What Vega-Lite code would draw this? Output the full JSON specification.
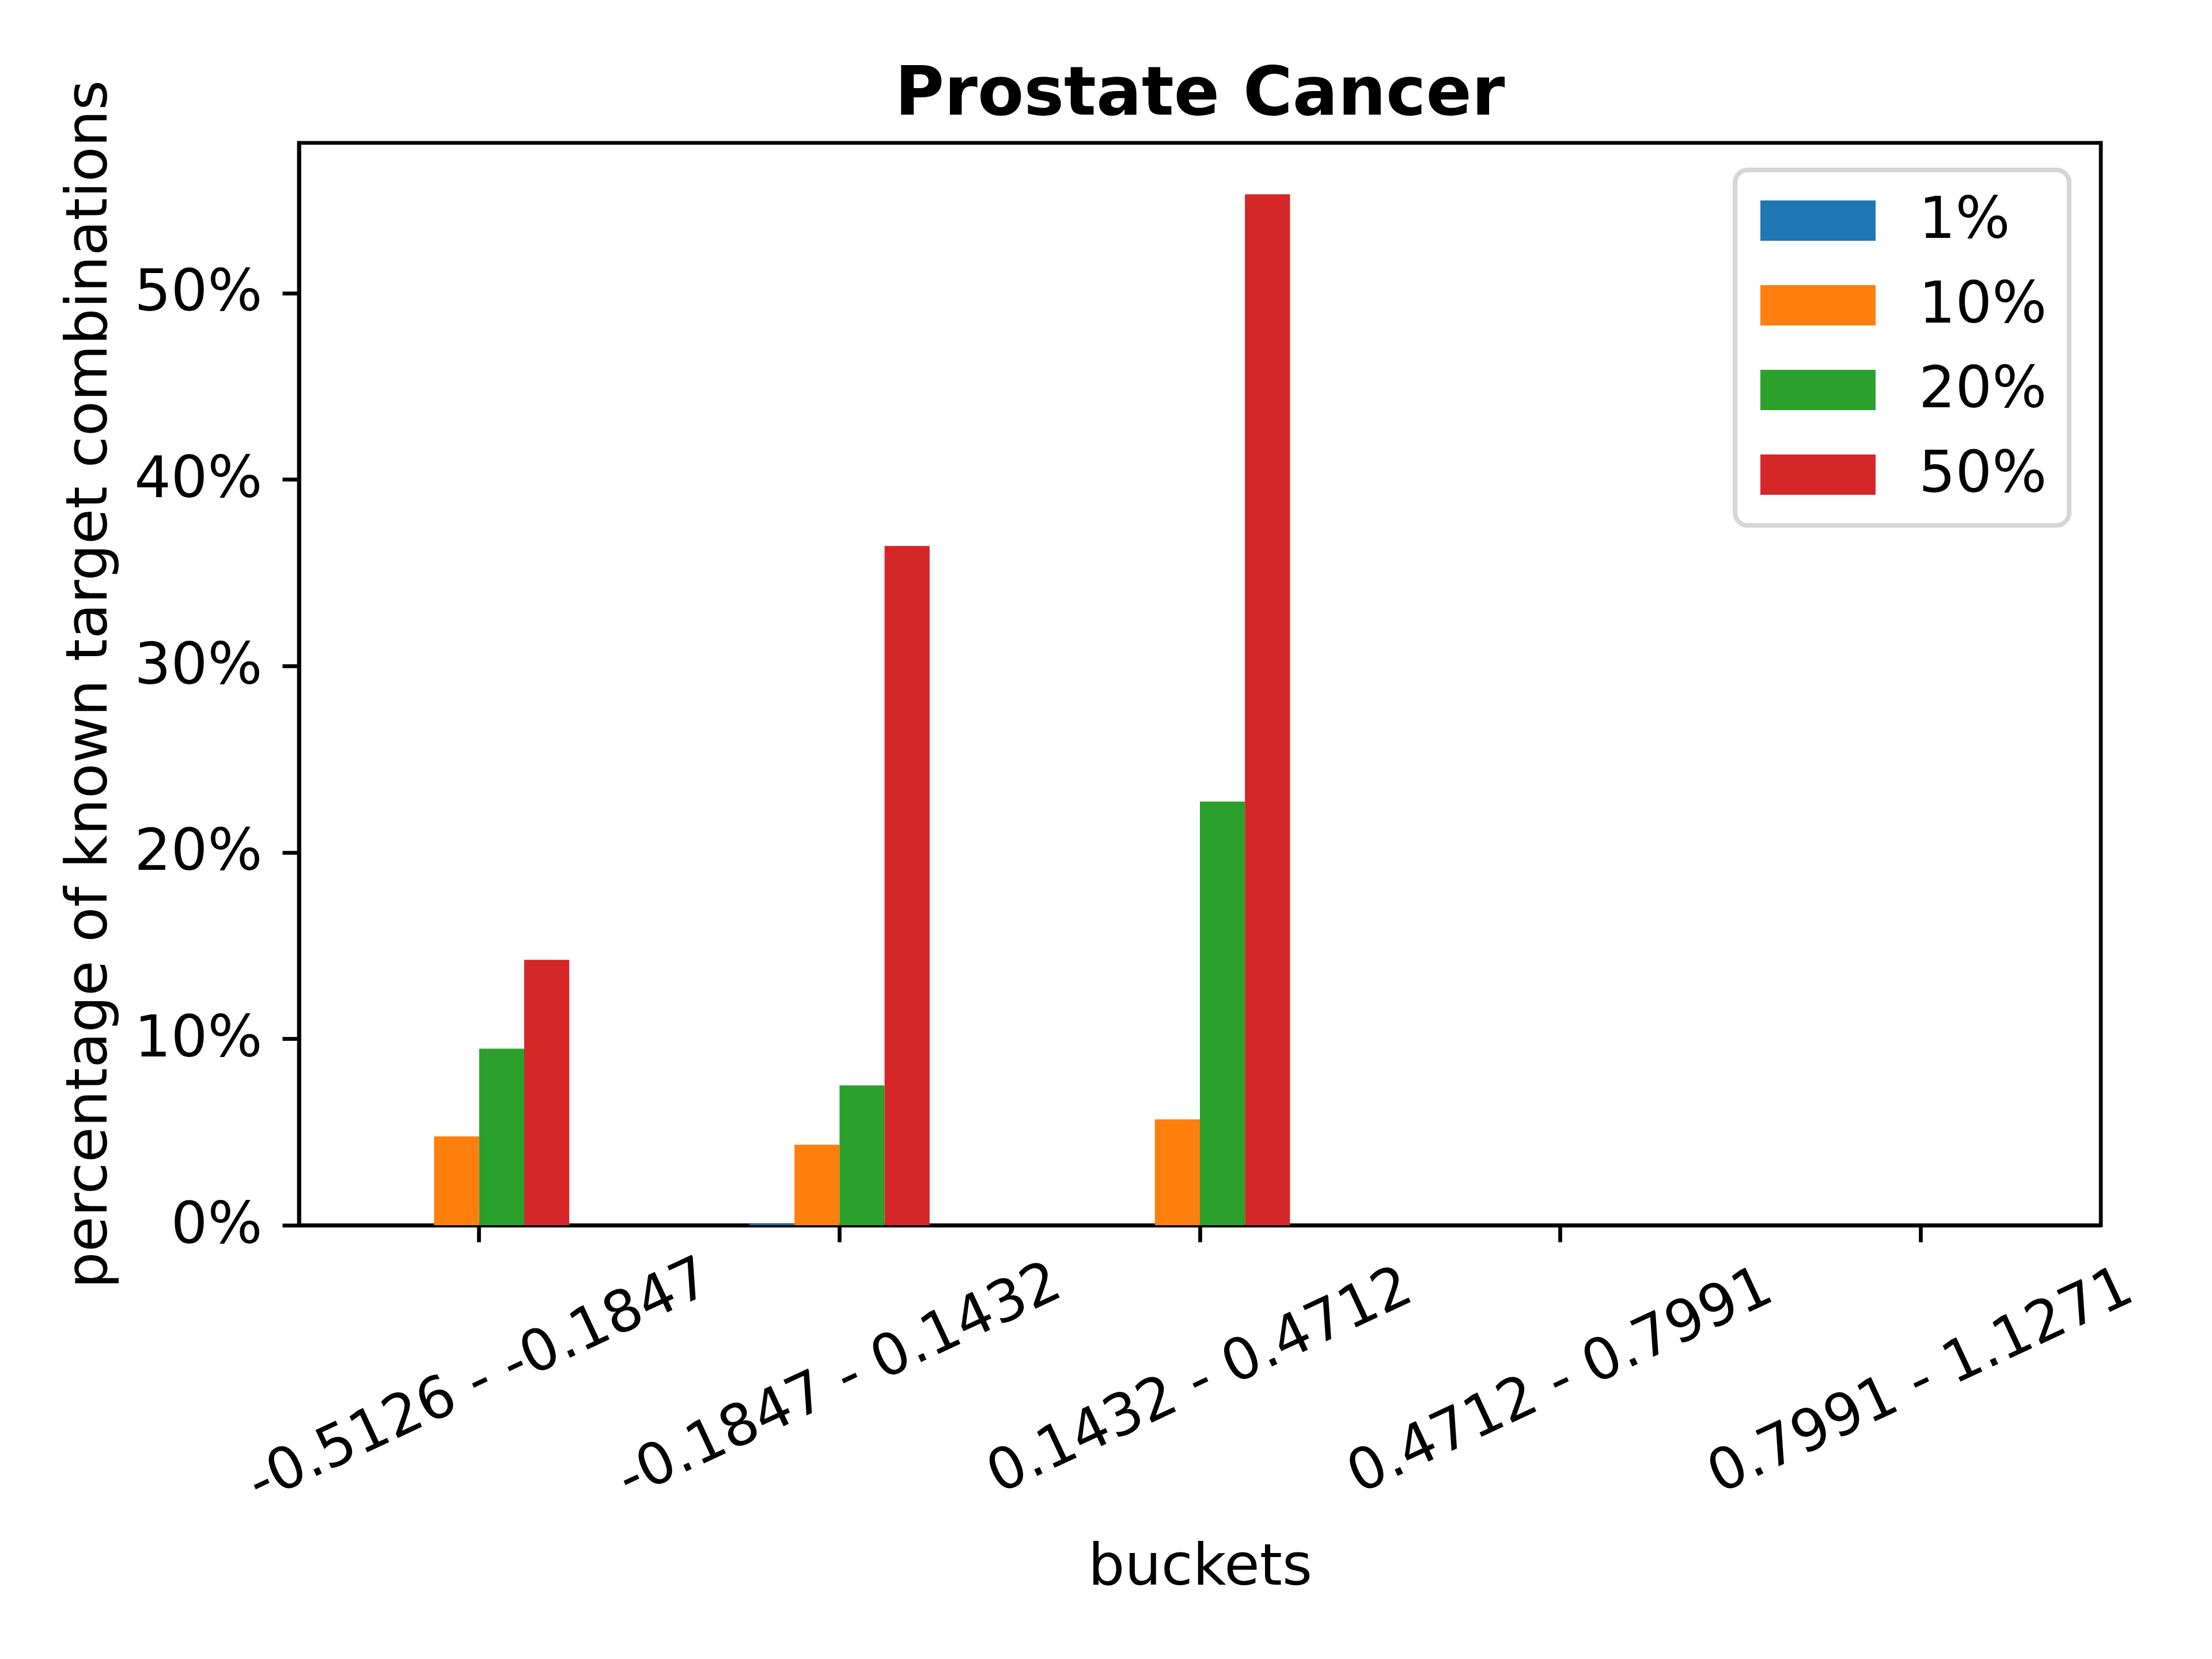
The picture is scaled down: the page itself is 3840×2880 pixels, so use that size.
{
  "$schema": "https://vega.github.io/schema/vega-lite/v6.json",
  "width": 3128,
  "height": 1879,
  "autosize": "none",
  "padding": {"left": 519, "top": 248, "right": 193, "bottom": 753},
  "background": "white",
  "title": {
    "text": "Prostate Cancer",
    "font": "DejaVu Sans",
    "fontSize": 117,
    "fontWeight": "bold",
    "color": "black",
    "anchor": "middle",
    "frame": "group",
    "baseline": "top",
    "offset": 51,
    "dy": 136
  },
  "data": {
    "values": [
      {"bucket": "-0.5126 - -0.1847", "share": "1%", "pct": 0},
      {"bucket": "-0.5126 - -0.1847", "share": "10%", "pct": 4.77},
      {"bucket": "-0.5126 - -0.1847", "share": "20%", "pct": 9.47},
      {"bucket": "-0.5126 - -0.1847", "share": "50%", "pct": 14.24},
      {"bucket": "-0.1847 - 0.1432", "share": "1%", "pct": 0.08},
      {"bucket": "-0.1847 - 0.1432", "share": "10%", "pct": 4.32},
      {"bucket": "-0.1847 - 0.1432", "share": "20%", "pct": 7.5},
      {"bucket": "-0.1847 - 0.1432", "share": "50%", "pct": 36.44},
      {"bucket": "0.1432 - 0.4712", "share": "1%", "pct": 0},
      {"bucket": "0.1432 - 0.4712", "share": "10%", "pct": 5.68},
      {"bucket": "0.1432 - 0.4712", "share": "20%", "pct": 22.73},
      {"bucket": "0.1432 - 0.4712", "share": "50%", "pct": 55.3},
      {"bucket": "0.4712 - 0.7991", "share": "1%", "pct": 0},
      {"bucket": "0.4712 - 0.7991", "share": "10%", "pct": 0},
      {"bucket": "0.4712 - 0.7991", "share": "20%", "pct": 0},
      {"bucket": "0.4712 - 0.7991", "share": "50%", "pct": 0},
      {"bucket": "0.7991 - 1.1271", "share": "1%", "pct": 0},
      {"bucket": "0.7991 - 1.1271", "share": "10%", "pct": 0},
      {"bucket": "0.7991 - 1.1271", "share": "20%", "pct": 0},
      {"bucket": "0.7991 - 1.1271", "share": "50%", "pct": 0}
    ]
  },
  "mark": {"type": "bar"},
  "encoding": {
    "x": {
      "field": "bucket",
      "type": "nominal",
      "sort": ["-0.5126 - -0.1847", "-0.1847 - 0.1432", "0.1432 - 0.4712", "0.4712 - 0.7991", "0.7991 - 1.1271"],
      "scale": {"paddingInner": 0.5, "paddingOuter": 0.25},
      "axis": {
        "title": "buckets",
        "titleX": 1564,
        "titleY": 623,
        "titleAlign": "center",
        "titleBaseline": "alphabetic",
        "labelAngle": -25,
        "labelAlign": "center",
        "labelBaseline": "middle",
        "labelPadding": 241,
        "labelOverlap": false,
        "labelBound": false
      }
    },
    "xOffset": {
      "field": "share",
      "type": "nominal",
      "sort": ["1%", "10%", "20%", "50%"],
      "scale": {"paddingInner": 0, "paddingOuter": 0}
    },
    "y": {
      "field": "pct",
      "type": "quantitative",
      "scale": {"domain": [0, 58.06], "nice": false},
      "axis": {
        "title": "percentage of known target combinations",
        "titleX": -335,
        "titleY": 939.5,
        "titleAngle": 270,
        "titleAlign": "center",
        "titleBaseline": "alphabetic",
        "values": [0, 10, 20, 30, 40, 50],
        "labelExpr": "datum.value + '%'",
        "labelPadding": 35,
        "labelFlush": false,
        "labelOverlap": false
      }
    },
    "color": {
      "field": "share",
      "type": "nominal",
      "sort": ["1%", "10%", "20%", "50%"],
      "scale": {
        "domain": ["1%", "10%", "20%", "50%"],
        "range": ["#1f77b4", "#ff7f0e", "#2ca02c", "#d62728"]
      },
      "legend": {
        "title": null,
        "orient": "none",
        "legendX": 2493,
        "legendY": 47
      }
    }
  },
  "config": {
    "font": "DejaVu Sans",
    "view": {"stroke": "black", "strokeWidth": 6.7},
    "axis": {
      "grid": false,
      "domainColor": "black",
      "domainWidth": 6.7,
      "tickColor": "black",
      "tickWidth": 6.7,
      "tickSize": 29,
      "labelFont": "DejaVu Sans",
      "labelFontSize": 100,
      "labelColor": "black",
      "labelLimit": 3000,
      "titleFont": "DejaVu Sans",
      "titleFontSize": 100,
      "titleFontWeight": "normal",
      "titleColor": "black",
      "titleLimit": 4000
    },
    "legend": {
      "symbolType": "M-2,-0.7H2V0.7H-2Z",
      "symbolSize": 10000,
      "symbolOffset": 56,
      "symbolStrokeWidth": 0,
      "symbolOpacity": 1,
      "labelFont": "DejaVu Sans",
      "labelFontSize": 100,
      "labelColor": "black",
      "labelLimit": 2000,
      "labelOffset": 125,
      "rowPadding": 47,
      "padding": 38,
      "fillColor": "white",
      "strokeColor": "#d6d6d6",
      "strokeWidth": 8,
      "cornerRadius": 22
    }
  }
}
